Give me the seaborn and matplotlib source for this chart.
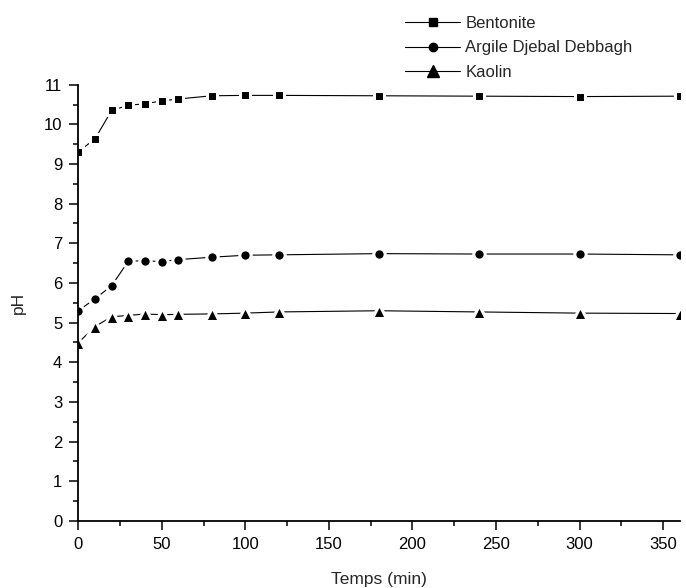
import numpy as np
import pandas as pd
import matplotlib
matplotlib.use("Agg")
import matplotlib.pyplot as plt
from matplotlib.lines import Line2D
from matplotlib.ticker import MultipleLocator
import seaborn as sns

# Contact time (min) and measured pH for each clay suspension
temps = [0, 10, 20, 30, 40, 50, 60, 80, 100, 120, 180, 240, 300, 360]
ph_bentonite = [9.31, 9.63, 10.35, 10.48, 10.52, 10.59, 10.64, 10.72, 10.73,
                10.73, 10.72, 10.71, 10.70, 10.71]
ph_argile = [5.30, 5.60, 5.93, 6.55, 6.56, 6.54, 6.59, 6.65, 6.70,
             6.71, 6.74, 6.73, 6.73, 6.71]
ph_kaolin = [4.49, 4.90, 5.15, 5.18, 5.22, 5.20, 5.21, 5.22, 5.24,
             5.27, 5.30, 5.27, 5.24, 5.23]
series_names = ["Bentonite", "Argile Djebal Debbagh", "Kaolin"]

sns.set_style("ticks")
plt.rcParams["font.family"] = ["Liberation Sans", "DejaVu Sans"]

df = pd.DataFrame({
    "Temps (min)": temps * 3,
    "pH": ph_bentonite + ph_argile + ph_kaolin,
    "serie": [s for s in series_names for _ in temps],
})

fig = plt.figure(figsize=(6.86, 5.88), dpi=100)
ax = fig.add_axes([0.114, 0.114, 0.877, 0.742])

styles = {
    "Bentonite": ("s", 5.2),
    "Argile Djebal Debbagh": ("o", 6.0),
    "Kaolin": ("^", 8.0),
}
halo = 2.2
for name in series_names:
    marker, size = styles[name]
    sns.lineplot(
        data=df[df["serie"] == name], x="Temps (min)", y="pH",
        ax=ax, color="black", linewidth=0.8, marker=marker,
        markersize=size + halo, markerfacecolor="black",
        markeredgecolor="white", markeredgewidth=halo,
        legend=False, errorbar=None, sort=False,
    )

ax.set_xlim(0, 360)
ax.set_ylim(0, 11)
ax.xaxis.set_major_locator(MultipleLocator(50))
ax.xaxis.set_minor_locator(MultipleLocator(25))
ax.yaxis.set_major_locator(MultipleLocator(1))
ax.yaxis.set_minor_locator(MultipleLocator(0.5))
ax.tick_params(axis="both", which="major", direction="out", length=6.5,
               width=1.1, labelsize=12, colors="black", pad=5)
ax.tick_params(axis="both", which="minor", direction="out", length=3.6,
               width=1.1, colors="black")
sns.despine(ax=ax)
for side in ("left", "bottom"):
    ax.spines[side].set_linewidth(1.3)
    ax.spines[side].set_color("black")

ax.set_xlabel("Temps (min)", fontsize=12.5, labelpad=14.5)
ax.set_ylabel("pH", fontsize=12.5, labelpad=13)

handles = [
    Line2D([], [], color="black", linewidth=0.8, marker=styles[n][0],
           markersize=styles[n][1], markerfacecolor="black",
           markeredgecolor="black")
    for n in series_names
]
fig.legend(handles, series_names, loc="upper left",
           bbox_to_anchor=(0.574, 0.993), frameon=False, fontsize=12,
           handlelength=3.3, handletextpad=0.3, labelspacing=0.58,
           borderaxespad=0.3)

fig.savefig("out.png", dpi=100)
